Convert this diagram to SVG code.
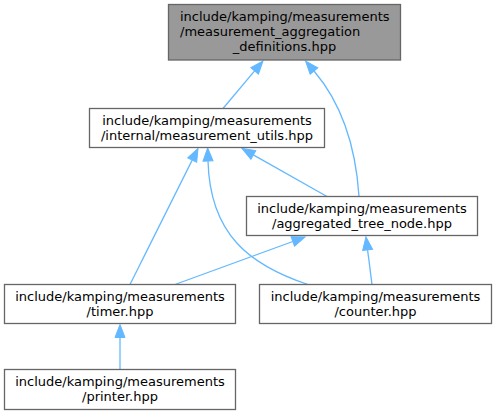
<svg xmlns="http://www.w3.org/2000/svg" width="496" height="417" viewBox="0 0 496 417">
<style>
.box{fill:#ffffff;stroke:#666666;stroke-width:1.3}
.cur{fill:#999999;stroke:#666666;stroke-width:1.3}
text{font-family:"DejaVu Sans",sans-serif;font-size:13px;fill:#000000}
.m{text-anchor:middle}
.s{text-anchor:start}
.e{fill:none;stroke:#63b8ff;stroke-width:1.3;marker-end:url(#ah)}
</style>
<defs>
<marker id="ah" markerUnits="userSpaceOnUse" markerWidth="14" markerHeight="12" refX="0" refY="6" orient="auto" overflow="visible">
<path d="M0,1 L13,6 L0,11 z" fill="#63b8ff" stroke="#63b8ff" stroke-width="1"/>
</marker>
</defs>
<g id="connectors">
<path class="e" d="M223,108.5 L254.6,70.9"/>
<path class="e" d="M359,196.5 C356,150 343,105 314,71"/>
<path class="e" d="M130,284.5 L192.2,160.1"/>
<path class="e" d="M308,284.5 C250,265 210,235 208,161"/>
<path class="e" d="M327,196.5 L253.3,154.9"/>
<path class="e" d="M175,284.5 L292.8,241.5"/>
<path class="e" d="M372,284.5 L367.6,249.9"/>
<path class="e" d="M120,369.5 L120,337.5"/>
</g>
<g id="node-aggregation-definitions">
<rect class="cur" x="168.5" y="4.5" width="232" height="55.5"/>
<text class="s" x="180" y="20.5">include/kamping/measurements</text>
<text class="s" x="180" y="35.5">/measurement_aggregation</text>
<text class="m" x="284.5" y="50.5">_definitions.hpp</text>
</g>
<g id="node-measurement-utils">
<rect class="box" x="89.5" y="108.5" width="235" height="39"/>
<text class="m" x="207" y="124.5">include/kamping/measurements</text>
<text class="m" x="207" y="139.5">/internal/measurement_utils.hpp</text>
</g>
<g id="node-aggregated-tree-node">
<rect class="box" x="246.5" y="196.5" width="231" height="39"/>
<text class="m" x="362" y="212.5">include/kamping/measurements</text>
<text class="m" x="362" y="227.5">/aggregated_tree_node.hpp</text>
</g>
<g id="node-timer">
<rect class="box" x="4.5" y="284.5" width="231" height="39"/>
<text class="m" x="120" y="300.5">include/kamping/measurements</text>
<text class="m" x="120" y="315.5">/timer.hpp</text>
</g>
<g id="node-counter">
<rect class="box" x="259.5" y="284.5" width="232" height="39"/>
<text class="m" x="375.5" y="300.5">include/kamping/measurements</text>
<text class="m" x="375.5" y="315.5">/counter.hpp</text>
</g>
<g id="node-printer">
<rect class="box" x="4.5" y="369.5" width="231" height="40"/>
<text class="m" x="120" y="386">include/kamping/measurements</text>
<text class="m" x="120" y="401">/printer.hpp</text>
</g>
</svg>
